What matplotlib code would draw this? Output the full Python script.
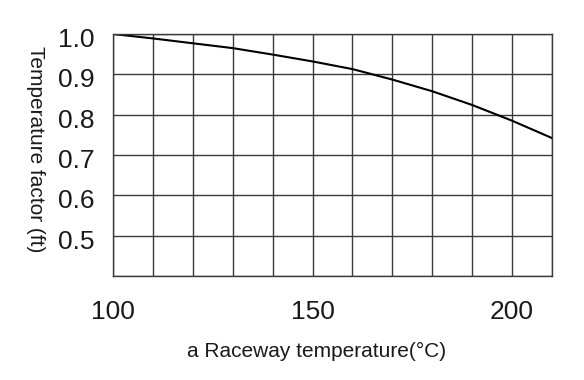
import matplotlib
matplotlib.use("Agg")
import matplotlib.pyplot as plt
import matplotlib.transforms as mtransforms

temps = [100, 110, 120, 130, 140, 150, 160, 170, 180, 190, 200, 210]
factor = [1.0, 0.989, 0.977, 0.965, 0.949, 0.932, 0.913, 0.887, 0.858, 0.824, 0.785, 0.742]
xticks = [100, 150, 200]
yticks = [0.5, 0.6, 0.7, 0.8, 0.9, 1.0]

plt.rcParams['font.family'] = ['Liberation Sans', 'DejaVu Sans']

fig = plt.figure(figsize=(5.84, 3.80), dpi=100)
ax = fig.add_axes([113/584, 1 - 276/380, (552 - 113)/584, (276 - 34)/380])
ax.plot(temps, factor, color='black', lw=1.5)
ax.set_xlim(100, 210)
ax.set_ylim(0.4, 1.0)
xgrid = list(range(100, 211, 10))
ygrid = [0.4, 0.5, 0.6, 0.7, 0.8, 0.9, 1.0]
ax.set_xticks(xgrid)
ax.set_yticks(ygrid)
ax.grid(True, color='#3a3a3a', lw=1.0)
ax.set_xticklabels([str(t) if t in xticks else '' for t in xgrid], fontsize=19, color='#1a1a1a')
ax.set_yticklabels([f'{v:.1f}' if any(abs(v - y) < 1e-9 for y in yticks) else '' for v in ygrid],
                   fontsize=19, color='#1a1a1a')
ax.tick_params(length=0)
ax.tick_params(axis='y', pad=13)
ax.tick_params(axis='x', pad=17)
off = mtransforms.ScaledTranslation(0, -3.5/100, fig.dpi_scale_trans)
for lab in ax.get_yticklabels():
    lab.set_transform(lab.get_transform() + off)
for s in ax.spines.values():
    s.set_color('#3a3a3a')
    s.set_linewidth(1.0)
fig.text(317/584, 1 - 351/380, 'a Raceway temperature(°C)', ha='center', va='center', fontsize=15, color='#1a1a1a')
fig.text(35/584, 1 - 149/380, 'Temperature factor (ft)', ha='center', va='center', rotation=-90, fontsize=15, color='#1a1a1a')
fig.savefig('out.png', dpi=100, facecolor='white')
